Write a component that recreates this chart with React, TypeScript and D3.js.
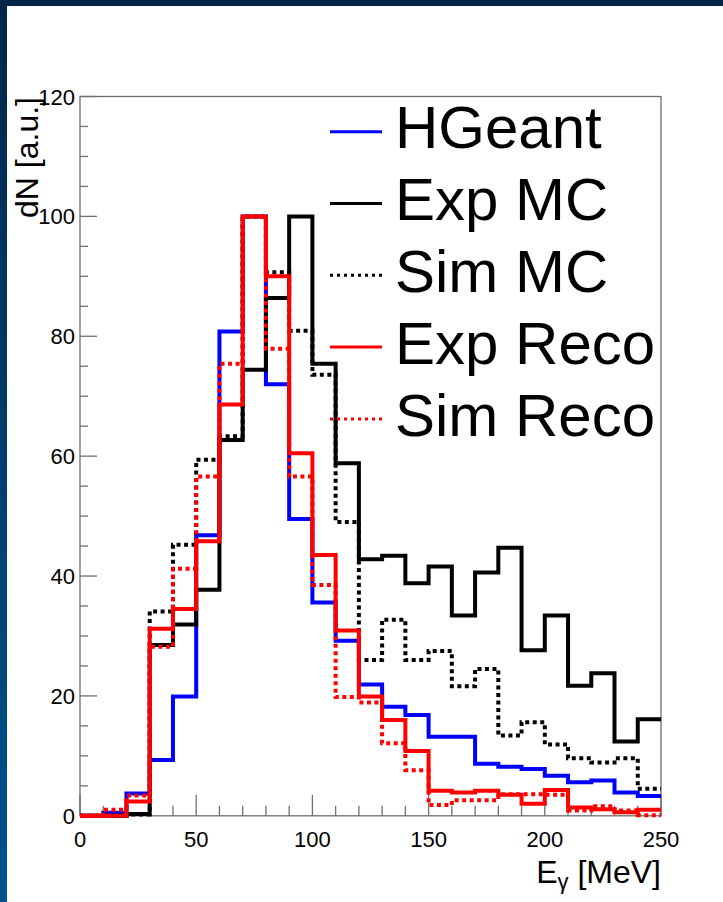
import React from "react";
import * as d3 from "d3";

const binEdges = d3.range(0, 260, 10);
const hgeant = [0, 0.5, 3.7, 9.3, 19.9, 46.8, 80.8, 100, 72.0, 49.5, 35.6, 29.2, 21.9, 18.2, 16.8, 13.2, 13.2, 8.7, 8.2, 7.8, 6.7, 5.6, 5.9, 3.9, 3.3];
const expMC = [0, 0, 0.3, 28.5, 31.9, 37.7, 62.7, 74.4, 86.4, 100, 75.4, 58.8, 42.8, 43.4, 38.8, 41.6, 33.4, 40.6, 44.7, 27.6, 33.4, 21.7, 23.8, 12.4, 16.1];
const simMC = [0, 0, 0.2, 34.1, 45.2, 59.4, 63.3, 100, 90.7, 80.9, 73.6, 49.0, 26.0, 32.7, 26.0, 27.5, 21.6, 24.5, 13.4, 15.6, 11.9, 9.6, 8.9, 9.6, 4.5];
const expReco = [0, 0, 2.4, 31.2, 34.5, 45.8, 68.6, 100, 90.0, 60.5, 43.5, 30.9, 19.9, 16.0, 10.8, 4.2, 3.9, 4.2, 3.5, 2.0, 4.3, 1.4, 1.1, 0.6, 1.0];
const simReco = [0, 1.0, 3.4, 28.2, 41.2, 56.6, 75.4, 100, 77.9, 56.6, 38.5, 19.8, 18.9, 12.1, 7.6, 1.8, 2.6, 2.6, 3.6, 3.6, 3.5, 0.9, 1.6, 0.9, 0.1];

const seriesNames = ["HGeant", "Exp MC", "Sim MC", "Exp Reco", "Sim Reco"];
const seriesData = [hgeant, expMC, simMC, expReco, simReco];
const seriesColors = ["#0000ff", "#000000", "#000000", "#ff0000", "#ff0000"];
const seriesDotted = [false, false, true, false, true];
const drawOrder = [0, 1, 2, 4, 3];

const xTicksMajor = [0, 50, 100, 150, 200, 250];
const yTicksMajor = [0, 20, 40, 60, 80, 100, 120];

export default function App() {
  const W = 723, H = 902;
  const x = d3.scaleLinear().domain([0, 250]).range([80, 661]);
  const y = d3.scaleLinear().domain([0, 120]).range([815.8, 96.5]);

  const stepPath = (vals: number[]) => {
    const pts: [number, number][] = [];
    vals.forEach((v, i) => {
      pts.push([x(binEdges[i]), y(v)]);
      pts.push([x(binEdges[i + 1]), y(v)]);
    });
    return d3.line()(pts) as string;
  };

  const xMinor = d3.range(0, 251, 10).filter((t) => t % 50 !== 0);
  const yMinor = d3.range(0, 121, 5).filter((t) => t % 20 !== 0);
  const font = "'Liberation Sans', Arial, Helvetica, sans-serif";
  const axisCol = "#6f6f6f";

  return (
    <svg width={W} height={H} style={{ position: "absolute", left: 0, top: 0 }} fontFamily={font}>
      <defs>
        <linearGradient id="lb" x1="0" y1="0" x2="0" y2="1">
          <stop offset="0" stopColor="#00264a" />
          <stop offset="1" stopColor="#00548e" />
        </linearGradient>
      </defs>
      <rect x={0} y={0} width={W} height={H} fill="#ffffff" />
      <rect x={0} y={0} width={7} height={H} fill="url(#lb)" />
      <rect x={0} y={0} width={W} height={6} fill="#00264a" />

      {/* frame */}
      <rect x={x(0)} y={y(120)} width={x(250) - x(0)} height={y(0) - y(120)} fill="none" stroke={axisCol} strokeWidth={1.3} />

      {/* x ticks */}
      {xTicksMajor.map((t) => (
        <line key={"xm" + t} x1={x(t)} x2={x(t)} y1={y(0)} y2={y(0) - 21} stroke={axisCol} strokeWidth={1.3} />
      ))}
      {xMinor.map((t) => (
        <line key={"xn" + t} x1={x(t)} x2={x(t)} y1={y(0)} y2={y(0) - 10} stroke={axisCol} strokeWidth={1.3} />
      ))}
      {yTicksMajor.map((t) => (
        <line key={"ym" + t} x1={x(0)} x2={x(0) + 17} y1={y(t)} y2={y(t)} stroke={axisCol} strokeWidth={1.3} />
      ))}
      {yMinor.map((t) => (
        <line key={"yn" + t} x1={x(0)} x2={x(0) + 8} y1={y(t)} y2={y(t)} stroke={axisCol} strokeWidth={1.3} />
      ))}

      {/* histograms */}
      {drawOrder.map((i) => (
        <path
          key={"h" + i}
          d={stepPath(seriesData[i])}
          fill="none"
          stroke={seriesColors[i]}
          strokeWidth={4}
          strokeDasharray={seriesDotted[i] ? "4 3.5" : undefined}
          strokeLinejoin="miter"
        />
      ))}

      {/* tick labels */}
      {xTicksMajor.map((t) => (
        <text key={"xl" + t} x={x(t)} y={847} fontSize={22} textAnchor="middle" fill="#000">
          {t}
        </text>
      ))}
      {yTicksMajor.map((t) => (
        <text key={"yl" + t} x={75} y={y(t) + 8} fontSize={22} textAnchor="end" fill="#000">
          {t}
        </text>
      ))}

      {/* axis titles */}
      <text x={661} y={883} fontSize={32} textAnchor="end" fill="#000">
        E<tspan fontSize={22} dy={6}>γ</tspan>
        <tspan dy={-6}> [MeV]</tspan>
      </text>
      <text transform="translate(38,97) rotate(-90)" fontSize={32} textAnchor="end" fill="#000">
        dN [a.u.]
      </text>

      {/* legend */}
      {seriesNames.map((n, i) => {
        const ly = 131.7 + 71.8 * i;
        return (
          <g key={"lg" + i}>
            <line
              x1={330}
              x2={382}
              y1={ly}
              y2={ly}
              stroke={seriesColors[i]}
              strokeWidth={3}
              strokeDasharray={seriesDotted[i] ? "3 4" : undefined}
            />
            <text x={395} y={ly + 16.6} fontSize={60} fill="#000">
              {n}
            </text>
          </g>
        );
      })}
    </svg>
  );
}
